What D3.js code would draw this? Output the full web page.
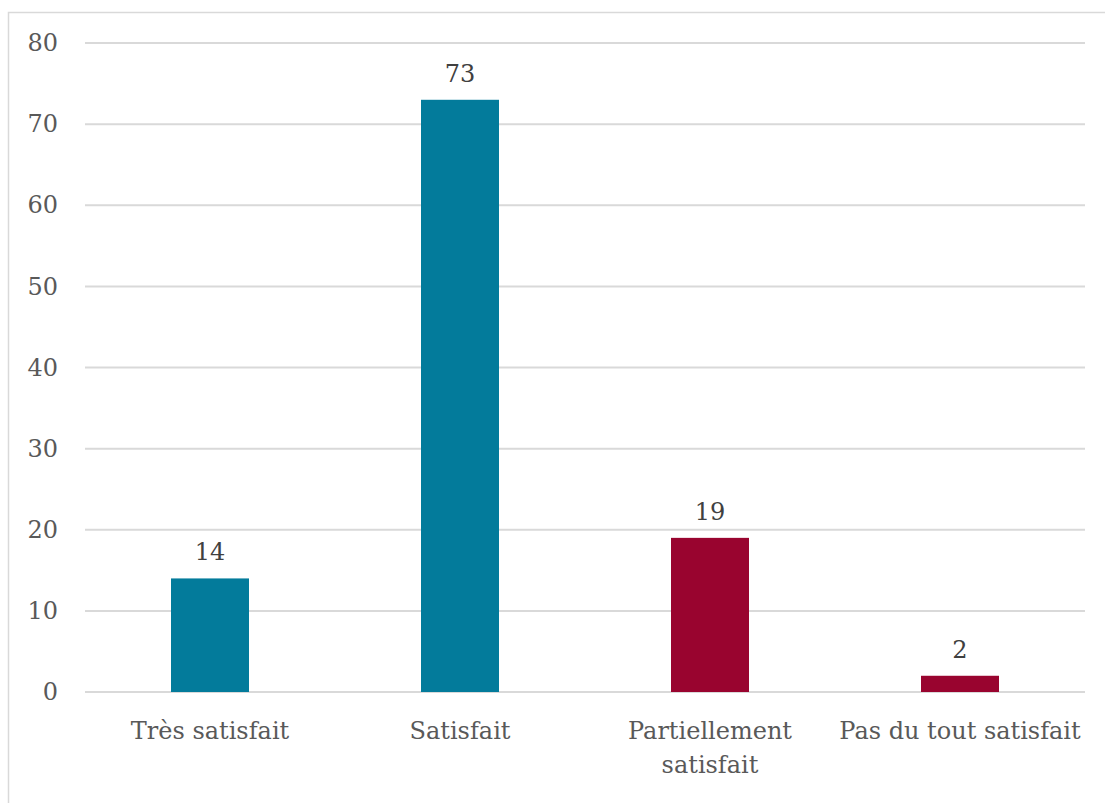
<!DOCTYPE html>
<meta charset="utf-8">
<style>
  body { margin: 0; background: #fff; }
  .tick text, .label, .value { font-family: "DejaVu Serif", serif; }
</style>
<svg width="1105" height="803"></svg>
<script src="https://d3js.org/d3.v7.min.js"></script>
<script>
  var categories = ["Très satisfait", "Satisfait", "Partiellement satisfait", "Pas du tout satisfait"];
  var values = [14, 73, 19, 2];
  var barColors = ["#037b9b", "#037b9b", "#99042f", "#99042f"];
  var yTicks = [0, 10, 20, 30, 40, 50, 60, 70, 80];
  // line breaks used for the category labels
  var labelLines = [["Très satisfait"], ["Satisfait"], ["Partiellement", "satisfait"], ["Pas du tout satisfait"]];

  var svg = d3.select("svg"),
    margin = { top: 43, right: 20, bottom: 111, left: 85 },
    width = 1085 - margin.left,
    height = 692 - margin.top;

  // chart border
  svg.append("rect")
    .attr("x", 8.5).attr("y", 12.5)
    .attr("width", 1110).attr("height", 820)
    .attr("fill", "none")
    .attr("stroke", "#d9d9d9")
    .attr("stroke-width", 1.5);

  var g = svg.append("g").attr("transform", "translate(" + margin.left + "," + margin.top + ")");

  var x = d3.scaleBand().domain(categories).range([0, width]).padding(0);
  var y = d3.scaleLinear().domain([0, 80]).range([height, 0]);
  var barW = x.bandwidth() * 0.312;

  // gridlines
  g.selectAll(".grid")
    .data(yTicks)
    .enter().append("line")
    .attr("class", "grid")
    .attr("x1", 0).attr("x2", width)
    .attr("y1", function (d) { return y(d); })
    .attr("y2", function (d) { return y(d); })
    .attr("stroke", "#d9d9d9")
    .attr("stroke-width", 2);

  var yAxis = g.append("g")
    .call(d3.axisLeft(y).tickValues(yTicks).tickSize(0).tickPadding(27));
  yAxis.select(".domain").remove();
  yAxis.selectAll("text")
    .attr("fill", "#595959")
    .style("font-size", "24px");

  g.selectAll(".bar")
    .data(values)
    .enter().append("rect")
    .attr("class", "bar")
    .attr("x", function (d, i) { return x(categories[i]) + (x.bandwidth() - barW) / 2; })
    .attr("y", function (d) { return y(d); })
    .attr("width", barW)
    .attr("height", function (d) { return height - y(d); })
    .attr("fill", function (d, i) { return barColors[i]; });

  g.selectAll(".value")
    .data(values)
    .enter().append("text")
    .attr("class", "value")
    .attr("x", function (d, i) { return x(categories[i]) + x.bandwidth() / 2; })
    .attr("y", function (d) { return y(d) - 18; })
    .attr("text-anchor", "middle")
    .attr("fill", "#404040")
    .style("font-size", "24px")
    .text(function (d) { return d; });

  var labels = g.selectAll(".label")
    .data(categories)
    .enter().append("text")
    .attr("class", "label")
    .attr("x", function (d) { return x(d) + x.bandwidth() / 2; })
    .attr("y", height + 47)
    .attr("text-anchor", "middle")
    .attr("fill", "#595959")
    .style("font-size", "24px");

  labels.selectAll("tspan")
    .data(function (d, i) { return labelLines[i]; })
    .enter().append("tspan")
    .attr("x", function () { return d3.select(this.parentNode).attr("x"); })
    .attr("dy", function (d, i) { return i === 0 ? 0 : 34; })
    .text(function (d) { return d; });
</script>
